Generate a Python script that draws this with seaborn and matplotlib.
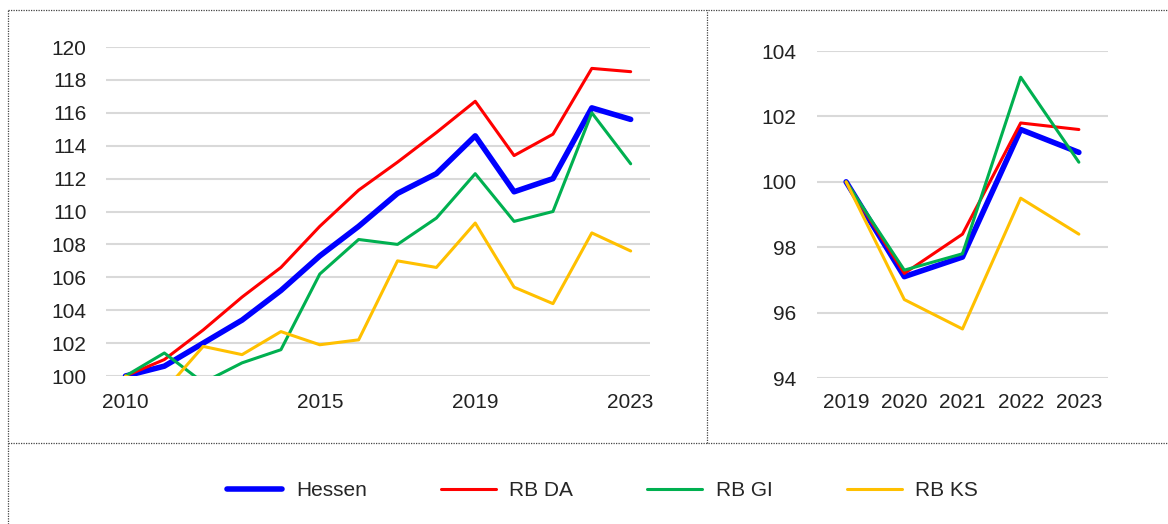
import numpy as np
import pandas as pd
import matplotlib
matplotlib.use('Agg')
import matplotlib.pyplot as plt
from matplotlib.lines import Line2D
from matplotlib import font_manager
import seaborn as sns

# Data
years_long = list(range(2010, 2024))
hessen_long = [100.0, 100.6, 102.0, 103.4, 105.2, 107.3, 109.1, 111.1, 112.3, 114.6, 111.2, 112.0, 116.3, 115.6]
rb_da_long  = [100.0, 101.0, 102.8, 104.8, 106.6, 109.1, 111.3, 113.0, 114.8, 116.7, 113.4, 114.7, 118.7, 118.5]
rb_gi_long  = [100.0, 101.4, 99.6, 100.8, 101.6, 106.2, 108.3, 108.0, 109.6, 112.3, 109.4, 110.0, 116.0, 112.9]
rb_ks_long  = [100.0, 99.1, 101.8, 101.3, 102.7, 101.9, 102.2, 107.0, 106.6, 109.3, 105.4, 104.4, 108.7, 107.6]

years_short = [2019, 2020, 2021, 2022, 2023]
hessen_short = [100.0, 97.1, 97.7, 101.6, 100.9]
rb_da_short  = [100.0, 97.2, 98.4, 101.8, 101.6]
rb_gi_short  = [100.0, 97.3, 97.8, 103.2, 100.6]
rb_ks_short  = [100.0, 96.4, 95.5, 99.5, 98.4]

series_names = ['Hessen', 'RB DA', 'RB GI', 'RB KS']
colors = {'Hessen': '#0000FF', 'RB DA': '#FF0000', 'RB GI': '#00B050', 'RB KS': '#FFC000'}
widths = {'Hessen': 4.0, 'RB DA': 2.2, 'RB GI': 2.2, 'RB KS': 2.2}

left_xticks = [2010, 2015, 2019, 2023]
left_yticks = list(range(100, 121, 2))
right_yticks = list(range(94, 105, 2))

df_long = pd.DataFrame({'Jahr': years_long, 'Hessen': hessen_long, 'RB DA': rb_da_long,
                        'RB GI': rb_gi_long, 'RB KS': rb_ks_long})
df_short = pd.DataFrame({'Jahr': years_short, 'Hessen': hessen_short, 'RB DA': rb_da_short,
                         'RB GI': rb_gi_short, 'RB KS': rb_ks_short})

sns.set_style('white')
installed = {f.name for f in font_manager.fontManager.ttflist}
if 'Liberation Sans Narrow' in installed:
    fam, fs = 'Liberation Sans Narrow', 17
else:
    fam, fs = 'Liberation Sans', 15
plt.rcParams['font.family'] = [fam, 'DejaVu Sans']

fig = plt.figure(figsize=(11.68, 5.24), dpi=100)
ax1 = fig.add_axes([0.0908, 0.2824, 0.4658, 0.6279])
ax2 = fig.add_axes([0.6995, 0.2786, 0.2491, 0.624])

for ax, df in [(ax1, df_long), (ax2, df_short)]:
    for name in series_names:
        sns.lineplot(data=df, x='Jahr', y=name, ax=ax, color=colors[name],
                     linewidth=widths[name], label=name, legend=False)
    ax.set_xlabel('')
    ax.set_ylabel('')
    ax.grid(axis='y', color='#d9d9d9', linewidth=1.5)
    ax.grid(axis='x', visible=False)
    for s in ax.spines.values():
        s.set_visible(False)
    ax.tick_params(length=0, labelsize=fs, colors='#222222')

ax1.set_xlim(2009.5, 2023.5)
ax1.set_ylim(100, 120)
ax1.set_xticks(left_xticks)
ax1.set_yticks(left_yticks)
ax1.tick_params(axis='y', pad=14)
ax1.tick_params(axis='x', pad=12)

ax2.set_xlim(2018.5, 2023.5)
ax2.set_ylim(94, 104)
ax2.set_xticks(years_short)
ax2.set_yticks(right_yticks)
ax2.tick_params(axis='y', pad=15)
ax2.tick_params(axis='x', pad=11)

handles = [Line2D([], [], color=colors[n], linewidth=widths[n], solid_capstyle='round') for n in series_names]
fig.legend(handles, series_names, loc='center', bbox_to_anchor=(0.516, 0.063), ncol=4,
           frameon=False, fontsize=fs, handlelength=2.65, handletextpad=0.65, columnspacing=3.55)

# dotted frame lines
dot = dict(color='#444444', linestyle=(0, (1, 1)), linewidth=0.9, transform=fig.transFigure)
fig.add_artist(Line2D([0.0068, 1.0], [0.981, 0.981], **dot))
fig.add_artist(Line2D([0.0068, 0.0068], [0.0, 0.981], **dot))
fig.add_artist(Line2D([0.6053, 0.6053], [0.1546, 0.981], **dot))
fig.add_artist(Line2D([0.0068, 1.0], [0.1546, 0.1546], **dot))

fig.savefig('out.png', dpi=100)
